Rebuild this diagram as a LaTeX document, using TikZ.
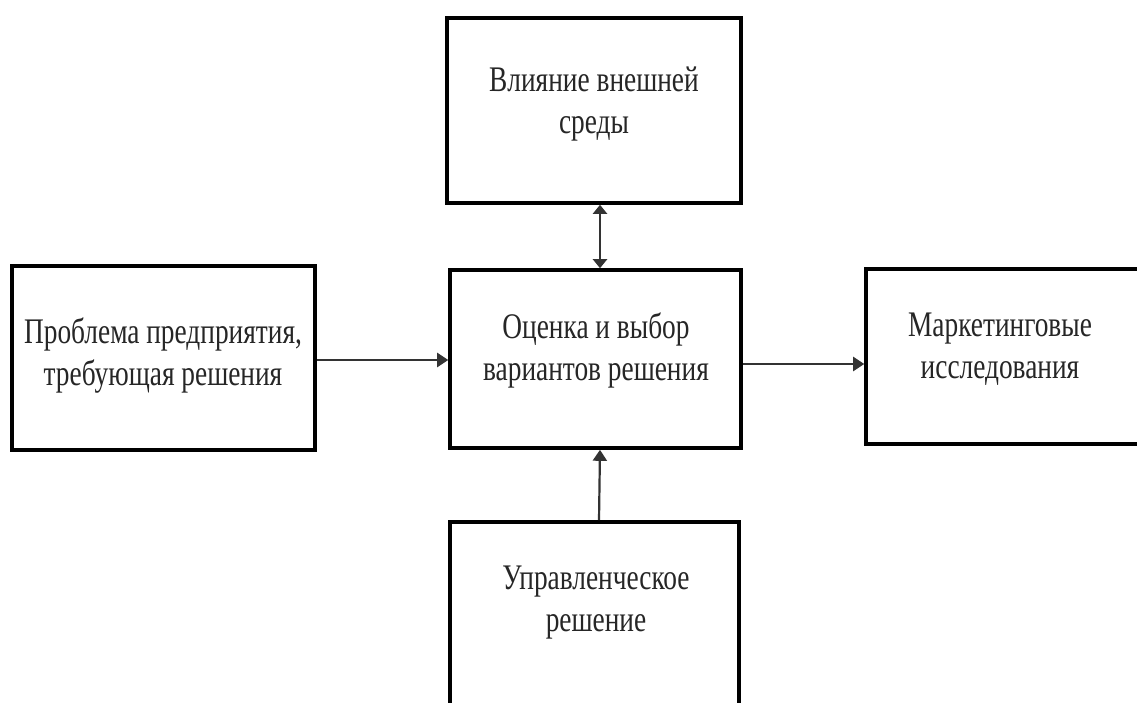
\documentclass[tikz,border=0pt]{standalone}
\usepackage{fontspec}
\setmainfont[FakeStretch=0.76]{Liberation Serif}
\usetikzlibrary{arrows.meta}
\tikzset{
  box/.style={draw=black, line width=3.6pt, rectangle, inner sep=0pt, fill=white},
  txt/.style={align=center, font=\fontsize{36}{42}\selectfont, text=black!85, inner sep=0pt},
  conn/.style={line width=2.2pt, draw=black!80, -{Triangle[length=11pt,width=14pt]}},
  dconn/.style={line width=2.2pt, draw=black!80, {Triangle[length=9pt,width=14pt]}-{Triangle[length=9pt,width=14pt]}}
}
\begin{document}
\begin{tikzpicture}[x=1pt,y=-1pt]
\useasboundingbox (0,0) rectangle (1137,702);
\clip (0,0) rectangle (1137,702);
\fill[white] (0,0) rectangle (1137,702);
\node[box, minimum width=294pt, minimum height=185pt] (top) at (594,110.5) {};
\node[box, minimum width=303pt, minimum height=184pt] (left) at (163.5,358) {};
\node[box, minimum width=291pt, minimum height=178pt] (mid) at (595.5,359) {};
\node[box, minimum width=334pt, minimum height=175pt] (right) at (1033,356.5) {};
\node[box, minimum width=289pt, minimum height=185pt] (bot) at (594.5,614.5) {};
\node[txt] (ttop) at (594,104) {Влияние внешней\\среды};
\node[txt] (tleft) at (163,355) {Проблема предприятия,\\требующая решения};
\node[txt] (tmid) at (596,350) {Оценка и выбор\\вариантов решения};
\node[txt] (tright) at (1000,349) {Маркетинговые\\исследования};
\node[txt] (tbot) at (596,603) {Управленческое\\решение};
\draw[conn] (left.east |- 0,360) -- (mid.west |- 0,360);
\draw[conn] (mid.east |- 0,364) -- (right.west |- 0,364);
\draw[dconn] ([xshift=4.5pt]mid.north) -- ([xshift=6pt]top.south);
\draw[conn] ([xshift=4.5pt]bot.north) -- ([xshift=4.5pt]mid.south);
\end{tikzpicture}
\end{document}
